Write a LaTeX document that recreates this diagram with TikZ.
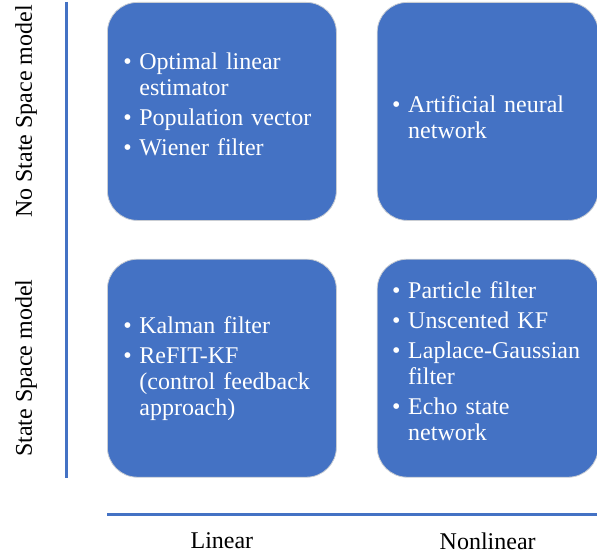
\documentclass[tikz,border=0pt]{standalone}
\usepackage{fontspec}
\setmainfont{Liberation Serif}
\usetikzlibrary{positioning}
\definecolor{Accent}{HTML}{4472C4}
\definecolor{Edge}{HTML}{C9CDD3}
\newcommand{\itm}[1]{\hangindent=16pt\hangafter=1\noindent\makebox[16pt][l]{\textbullet}#1\par}

\begin{document}
\begin{tikzpicture}[x=1pt,y=1pt,node distance=38pt and 40pt,
        quad/.style={draw=Edge,line width=0.8pt,fill=Accent,rounded corners=30pt,minimum width=229pt,minimum height=218pt,
          inner xsep=0pt,text width=197pt,align=left,text=white,font=\fontsize{24}{26}\selectfont\setlength{\parskip}{4pt}},
        wide/.style={minimum width=221pt,text width=191pt},
        axlabel/.style={font=\fontsize{24}{28}\selectfont},
        axis/.style={draw=Accent,line width=3pt}]
  \useasboundingbox (0,0) rectangle (597,-559);
  % four quadrants
  \node[quad,anchor=north west] (nolin) at (107,-2)
    {\itm{Optimal linear\newline estimator}\itm{Population vector}\itm{Wiener filter}\vspace{14pt}};
  \node[quad,wide,right=of nolin] (nonlin)
    {\itm{Artificial neural\newline network}\vspace{-12pt}};
  \node[quad,below=of nolin] (sslin)
    {\itm{Kalman filter}\itm{ReFIT-KF\newline (control feedback\newline approach)}};
  \node[quad,wide,below=of nonlin] (ssnonlin)
    {\itm{Particle filter}\itm{Unscented KF}\itm{Laplace-Gaussian\newline filter}\itm{Echo state\newline network}\vspace{14pt}};
  % axes
  \draw[axis] (66,0 |- nolin.north) -- (66,0 |- sslin.south);
  \draw[axis] (sslin.west |- 0,-514) -- (597,-514);
  \node[axlabel,rotate=90] (nss) at (26,0 |- nolin.center) {No State Space model};
  \node[axlabel,rotate=90] (ss) at (26,0 |- sslin.center) {State Space model};
  \node[axlabel] (lin) at (sslin.center |- 0,-541) {Linear};
  \node[axlabel] (nlin) at (ssnonlin.center |- 0,-541) {Nonlinear};
\end{tikzpicture}
\end{document}
